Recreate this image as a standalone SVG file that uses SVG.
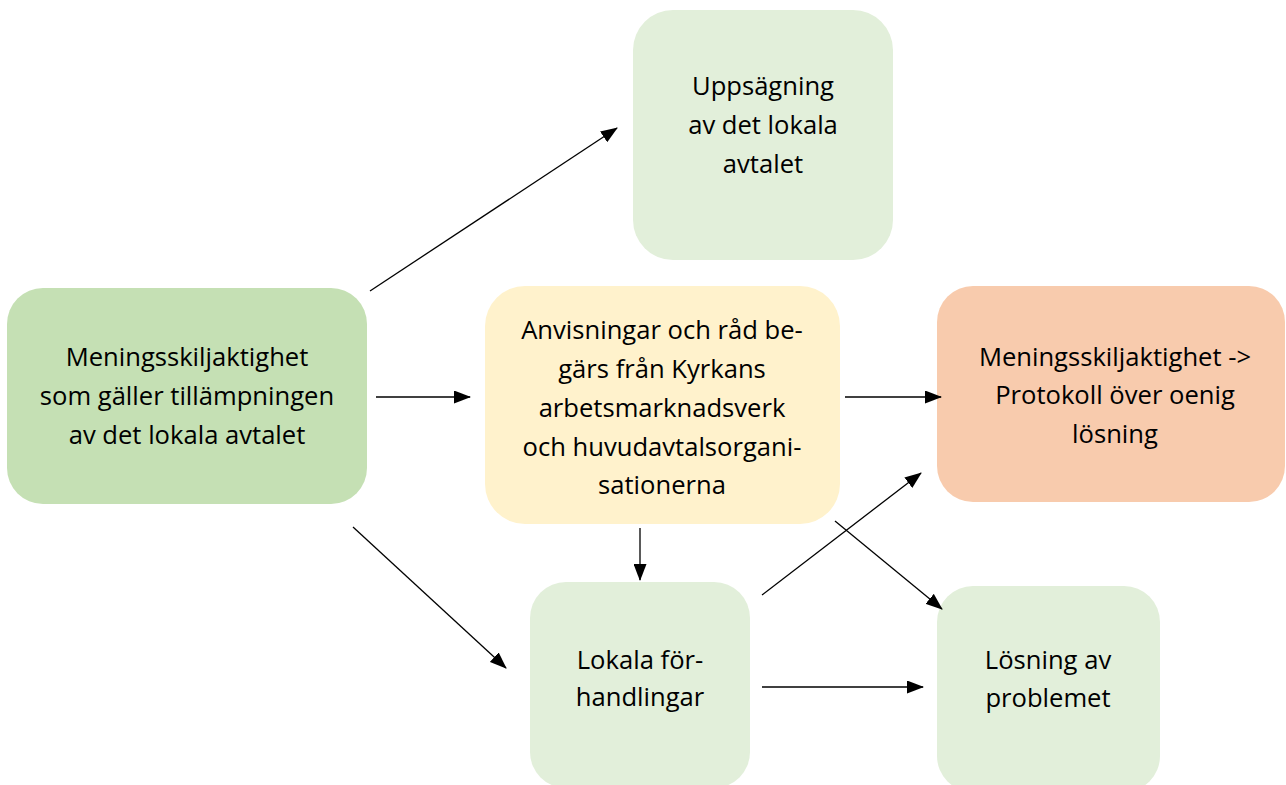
<svg xmlns="http://www.w3.org/2000/svg" width="1286" height="785" viewBox="0 0 1286 785">
<style>
.t{font-family:"Open Sans","Liberation Sans",sans-serif;font-size:25.6px;fill:#000;text-anchor:middle}
.c{stroke:#000;stroke-width:1.3;fill:none}
</style>
<defs>
<marker id="ah" markerWidth="17" markerHeight="13" refX="16" refY="6.5" orient="auto" markerUnits="userSpaceOnUse">
<path d="M0,0 L17,6.5 L0,13 z" fill="#000"/>
</marker>
</defs>
<rect width="1286" height="785" fill="#fff"/>
<g id="n-start">
<rect x="7" y="288" width="360" height="216" rx="36" fill="#C5E0B4"/>
<text class="t" x="187" y="366">Meningsskiljaktighet</text>
<text class="t" x="187" y="405">som gäller tillämpningen</text>
<text class="t" x="187" y="444">av det lokala avtalet</text>
</g>
<g id="n-uppsagning">
<rect x="633" y="10" width="260" height="250" rx="40" fill="#E2EFDA"/>
<text class="t" x="763" y="95">Uppsägning</text>
<text class="t" x="763" y="134">av det lokala</text>
<text class="t" x="763" y="173">avtalet</text>
</g>
<g id="n-anvisningar">
<rect x="485" y="286" width="355" height="238" rx="40" fill="#FFF2CC"/>
<text class="t" x="662" y="339">Anvisningar och råd be-</text>
<text class="t" x="662" y="378">gärs från Kyrkans</text>
<text class="t" x="662" y="417">arbetsmarknadsverk</text>
<text class="t" x="662" y="456">och huvudavtalsorgani-</text>
<text class="t" x="662" y="494">sationerna</text>
</g>
<g id="n-protokoll">
<rect x="937" y="286" width="348" height="216" rx="36" fill="#F8CBAD"/>
<text class="t" x="1115" y="366">Meningsskiljaktighet -&gt;</text>
<text class="t" x="1115" y="404">Protokoll över oenig</text>
<text class="t" x="1115" y="443">lösning</text>
</g>
<g id="n-lokala">
<rect x="530" y="582" width="220" height="206" rx="36" fill="#E2EFDA"/>
<text class="t" x="640" y="669">Lokala för-</text>
<text class="t" x="640" y="706">handlingar</text>
</g>
<g id="n-losning">
<rect x="937" y="586" width="223" height="206" rx="36" fill="#E2EFDA"/>
<text class="t" x="1048" y="669">Lösning av</text>
<text class="t" x="1048" y="707">problemet</text>
</g>
<g id="connectors">
<line class="c" x1="370" y1="291" x2="617" y2="128" marker-end="url(#ah)"/>
<line class="c" x1="376" y1="397" x2="470" y2="397" marker-end="url(#ah)"/>
<line class="c" x1="353" y1="527" x2="506" y2="668" marker-end="url(#ah)"/>
<line class="c" x1="640" y1="528" x2="640" y2="580" marker-end="url(#ah)"/>
<line class="c" x1="845" y1="397" x2="941" y2="397" marker-end="url(#ah)"/>
<line class="c" x1="762" y1="595" x2="921" y2="473" marker-end="url(#ah)"/>
<line class="c" x1="835" y1="521" x2="942" y2="609" marker-end="url(#ah)"/>
<line class="c" x1="762" y1="687" x2="923" y2="687" marker-end="url(#ah)"/>
</g>
</svg>
